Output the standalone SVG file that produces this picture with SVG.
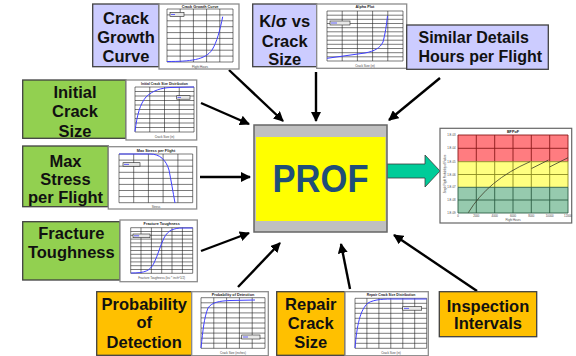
<svg xmlns="http://www.w3.org/2000/svg" width="576" height="356" viewBox="0 0 576 356">
<defs>
<style>
.lbl{font-family:"Liberation Sans",Arial,sans-serif;font-weight:bold;font-size:16.5px;fill:#111;text-anchor:middle}
.blue{fill:#CCCCFF;stroke:#404040;stroke-width:1.3}
.green{fill:#92D050;stroke:#404040;stroke-width:1.3}
.orange{fill:#FFC000;stroke:#404040;stroke-width:1.3}
.frame{fill:#fff;stroke:#8c8c8c;stroke-width:1.3}
.grid{fill:none;stroke:#222;stroke-width:0.6}
.curve{fill:none;stroke:#4040ff;stroke-width:1}
.leg{fill:#e8e8e8;stroke:#222;stroke-width:0.6}
.tt{font-family:"Liberation Sans",Arial,sans-serif;font-weight:bold;font-size:3.8px;fill:#222;text-anchor:middle}
.ax{font-family:"Liberation Sans",Arial,sans-serif;font-size:3px;fill:#444;text-anchor:middle}
.conn{fill:none;stroke:#000;stroke-width:2.4;marker-end:url(#ah)}
</style>
<marker id="ah" viewBox="0 0 10 10" refX="9" refY="5" markerWidth="4.2" markerHeight="4.2" orient="auto" markerUnits="strokeWidth">
<path d="M0,0 L10,5 L0,10 z" fill="#000"/>
</marker>
</defs>
<rect width="576" height="356" fill="#fff"/>

<g id="connectors">
<line class="conn" x1="229" y1="70" x2="283" y2="121"/>
<line class="conn" x1="316" y1="72" x2="316" y2="121"/>
<line class="conn" x1="440" y1="78" x2="389" y2="120"/>
<line class="conn" x1="201" y1="103" x2="249" y2="124"/>
<line class="conn" x1="200" y1="177" x2="250" y2="177"/>
<line class="conn" x1="201" y1="251" x2="249" y2="233"/>
<line class="conn" x1="238" y1="287" x2="280" y2="243"/>
<line class="conn" x1="350" y1="289" x2="341" y2="244"/>
<line class="conn" x1="477" y1="291" x2="394" y2="235"/>
<polygon points="387,164 425,164 425,155 440,171 425,187 425,178 387,178" fill="#00CC99" stroke="#3a3a3a" stroke-width="0.8"/>
</g>

<g id="prof">
<rect x="254" y="125" width="133" height="107" fill="#C0C0C0" stroke="#666" stroke-width="1.5"/>
<rect x="256" y="137" width="129.5" height="84" fill="#FFFF00"/>
<text x="320.5" y="192" font-family="Liberation Sans,Arial,sans-serif" font-weight="bold" font-size="38" fill="#1F4E79" text-anchor="middle" textLength="96" lengthAdjust="spacingAndGlyphs">PROF</text>
</g>

<g id="crack-growth">
<rect class="blue" x="92.7" y="4" width="66.3" height="62.7"/>
<text class="lbl" x="126" y="24">Crack</text>
<text class="lbl" x="126" y="43.3">Growth</text>
<text class="lbl" x="126" y="62.3">Curve</text>
<rect class="frame" x="159" y="4" width="80" height="65"/>
<path class="grid" d="M167,9V62M180.2,9V62M193.4,9V62M206.6,9V62M219.8,9V62M233,9V62M167,9H233M167,14.9H233M167,20.8H233M167,26.7H233M167,32.6H233M167,38.4H233M167,44.3H233M167,50.2H233M167,56.1H233M167,62H233"/>
<path class="curve" d="M167,61.5 C190,61.5 205,60 212,50 C217,42 220,30 222.7,16.7"/>
<rect class="leg" x="170" y="12.5" width="14" height="4"/>
<line x1="171" y1="14.5" x2="175" y2="14.5" stroke="#4040ff" stroke-width="0.8"/>
<text class="tt" x="200" y="7.6">Crack Growth Curve</text>
<text class="ax" x="200" y="67.5">Flight Hours</text>
</g>

<g id="k-sigma">
<rect class="blue" x="252.7" y="4" width="64" height="62.7"/>
<text class="lbl" x="284.7" y="26.7">K/σ vs</text>
<text class="lbl" x="284.7" y="46.7">Crack</text>
<text class="lbl" x="284.7" y="65">Size</text>
<rect class="frame" x="316.7" y="4" width="90" height="64.3"/>
<path class="grid" d="M327,11V61M342.2,11V61M357.4,11V61M372.6,11V61M387.8,11V61M403,11V61M327,11H403M327,15.2H403M327,19.3H403M327,23.5H403M327,27.7H403M327,31.8H403M327,36H403M327,40.2H403M327,44.3H403M327,48.5H403M327,52.7H403M327,56.8H403M327,61H403"/>
<path class="curve" d="M327,58.3 L365,53 C375,51 380,48 383,42 C385,35 386.5,25 387.5,16"/>
<rect class="leg" x="330" y="21" width="20" height="4"/>
<line x1="331" y1="23" x2="337" y2="23" stroke="#4040ff" stroke-width="0.8"/>
<text class="tt" x="365" y="8.4">Alpha Plot</text>
<text class="ax" x="365" y="66.5">Crack Size (in)</text>
</g>

<g id="similar-details">
<rect class="blue" x="406.7" y="25" width="141.6" height="44.3"/>
<text class="lbl" x="418.5" y="42.7" style="text-anchor:start;font-size:16px">Similar Details</text>
<text class="lbl" x="418.5" y="61.7" style="text-anchor:start;font-size:16px">Hours per Flight</text>
</g>

<g id="initial-crack">
<rect class="green" x="22.7" y="80" width="103.3" height="58.3"/>
<text class="lbl" x="75" y="97.5">Initial</text>
<text class="lbl" x="75" y="117.3">Crack</text>
<text class="lbl" x="75" y="136.5">Size</text>
<rect class="frame" x="126" y="80" width="70.7" height="60"/>
<path class="grid" d="M135,87V132M149.75,87V132M164.5,87V132M179.25,87V132M194,87V132M135,87H194M135,91.5H194M135,96H194M135,100.5H194M135,105H194M135,109.5H194M135,114H194M135,118.5H194M135,123H194M135,127.5H194M135,132H194"/>
<path class="curve" d="M135,131.5 C137,115 140,104 146,97 C153,90 162,88 170,87.5 L194,87"/>
<rect class="leg" x="176.7" y="95.7" width="13.3" height="3.5"/>
<line x1="177.5" y1="97.4" x2="181" y2="97.4" stroke="#4040ff" stroke-width="0.8"/>
<text class="tt" x="164.5" y="84.6" style="font-size:3.4px">Initial Crack Size Distribution</text>
<text class="ax" x="164.5" y="138">Crack Size (in)</text>
</g>

<g id="max-stress">
<rect class="green" x="22.7" y="146" width="85.6" height="60.7"/>
<text class="lbl" x="65.5" y="166.7">Max</text>
<text class="lbl" x="65.5" y="185">Stress</text>
<text class="lbl" x="65.5" y="203">per Flight</text>
<rect class="frame" x="108.3" y="146.7" width="88.4" height="62.3"/>
<path class="grid" d="M119,154V202.7M133.7,154V202.7M148.4,154V202.7M163.1,154V202.7M177.9,154V202.7M192.7,154V202.7M119,154H192.7M119,160.1H192.7M119,166.2H192.7M119,172.3H192.7M119,178.4H192.7M119,184.4H192.7M119,190.5H192.7M119,196.6H192.7M119,202.7H192.7"/>
<path class="curve" d="M119,154 L150,154 C160,154 166,160 169,170 C171,180 173,192 175,203"/>
<rect class="leg" x="123" y="162.7" width="17" height="3.5"/>
<line x1="124" y1="164.4" x2="129" y2="164.4" stroke="#4040ff" stroke-width="0.8"/>
<text class="tt" x="156" y="151.8">Max Stress per Flight</text>
<text class="ax" x="156" y="207.5">Stress</text>
</g>

<g id="fracture-toughness">
<rect class="green" x="22.7" y="221.7" width="97.3" height="58.3"/>
<text class="lbl" x="71.3" y="239">Fracture</text>
<text class="lbl" x="71.3" y="258.3">Toughness</text>
<rect class="frame" x="120" y="220" width="77.3" height="61.7"/>
<path class="grid" d="M130.7,227.7V273.3M141,227.7V273.3M151.4,227.7V273.3M161.7,227.7V273.3M172,227.7V273.3M182.4,227.7V273.3M192.7,227.7V273.3M130.7,227.7H192.7M130.7,231.5H192.7M130.7,235.3H192.7M130.7,239.1H192.7M130.7,242.9H192.7M130.7,246.7H192.7M130.7,250.5H192.7M130.7,254.3H192.7M130.7,258.1H192.7M130.7,261.9H192.7M130.7,265.7H192.7M130.7,269.5H192.7M130.7,273.3H192.7"/>
<path class="curve" d="M131,273 C145,273 150,271 154,263 C158,255 160,246 164,238 C168,230 174,228 183,228 L192.7,228"/>
<rect class="leg" x="133" y="234" width="17" height="3.7"/>
<line x1="134" y1="235.8" x2="139" y2="235.8" stroke="#4040ff" stroke-width="0.8"/>
<text class="tt" x="161.7" y="225">Fracture Toughness</text>
<text class="ax" x="161.7" y="279">Fracture Toughness (ksi * inch^1/2)</text>
</g>

<g id="probability-detection">
<rect class="orange" x="96.7" y="291.7" width="95" height="63.6"/>
<text class="lbl" x="144.2" y="310">Probability</text>
<text class="lbl" x="144.2" y="328.3">of</text>
<text class="lbl" x="144.2" y="347.7">Detection</text>
<rect class="frame" x="191.7" y="291.7" width="76.6" height="64"/>
<path class="grid" d="M201,297.7V348.3M213.8,297.7V348.3M226.6,297.7V348.3M239.4,297.7V348.3M252.2,297.7V348.3M265,297.7V348.3M201,297.7H265M201,302.8H265M201,307.8H265M201,312.9H265M201,317.9H265M201,323H265M201,328.1H265M201,333.1H265M201,338.2H265M201,343.2H265M201,348.3H265"/>
<path class="curve" d="M201,348 C203,330 204,318 208,308 C212,302 220,301 230,300.5 L255,300"/>
<rect class="leg" x="241.7" y="335" width="18.3" height="4"/>
<line x1="243" y1="337" x2="248" y2="337" stroke="#4040ff" stroke-width="0.8"/>
<text class="tt" x="233" y="296">Probability of Detection</text>
<text class="ax" x="233" y="353.5">Crack Size (inches)</text>
</g>

<g id="repair-crack">
<rect class="orange" x="276.7" y="291.7" width="68.3" height="63.6"/>
<text class="lbl" x="310.8" y="310">Repair</text>
<text class="lbl" x="310.8" y="329.3">Crack</text>
<text class="lbl" x="310.8" y="348.3">Size</text>
<rect class="frame" x="345" y="291.7" width="83.3" height="64"/>
<path class="grid" d="M355,298.3V348.3M366.9,298.3V348.3M378.9,298.3V348.3M390.8,298.3V348.3M402.8,298.3V348.3M414.7,298.3V348.3M426.7,298.3V348.3M355,298.3H426.7M355,303.3H426.7M355,308.3H426.7M355,313.3H426.7M355,318.3H426.7M355,323.3H426.7M355,328.3H426.7M355,333.3H426.7M355,338.3H426.7M355,343.3H426.7M355,348.3H426.7"/>
<path class="curve" d="M355,348 C357,325 360,310 368,303 C375,299 385,299 395,299 L426.7,299"/>
<rect class="leg" x="402.7" y="306.7" width="19" height="3.5"/>
<line x1="404" y1="308.4" x2="409" y2="308.4" stroke="#4040ff" stroke-width="0.8"/>
<text class="tt" x="391" y="296.2" style="font-size:3.4px">Repair Crack Size Distribution</text>
<text class="ax" x="391" y="353.5">Crack Size (in)</text>
</g>

<g id="inspection-intervals">
<rect class="orange" x="439.3" y="291.7" width="97.4" height="45"/>
<text class="lbl" x="488" y="311.7">Inspection</text>
<text class="lbl" x="488" y="329.3">Intervals</text>
</g>

<g id="bfpof-chart">
<rect x="440" y="128.3" width="131.7" height="94.7" fill="#fff" stroke="#666" stroke-width="1.2"/>
<rect x="458" y="135" width="110" height="26.7" fill="#FF7C80"/>
<rect x="458" y="161.7" width="110" height="25.6" fill="#FFFF80"/>
<rect x="458" y="187.3" width="110" height="25.7" fill="#96CAAE"/>
<path fill="none" stroke="#8B1A1A" stroke-width="0.9" d="M458,135H568M458,148.3H568M476.3,135V161.7M494.7,135V161.7M513,135V161.7M531.3,135V161.7M549.7,135V161.7M568,135V161.7M458,135V161.7"/>
<path fill="none" stroke="#8A8A20" stroke-width="0.9" d="M458,161.7H568M458,174.5H568M476.3,161.7V187.3M494.7,161.7V187.3M513,161.7V187.3M531.3,161.7V187.3M549.7,161.7V187.3M568,161.7V187.3M458,161.7V187.3"/>
<path fill="none" stroke="#2D5E45" stroke-width="0.9" d="M458,187.3H568M458,200H568M458,213H568M476.3,187.3V213M494.7,187.3V213M513,187.3V213M531.3,187.3V213M549.7,187.3V213M568,187.3V213M458,187.3V213"/>
<path fill="none" stroke="#3d3d2a" stroke-width="0.8" d="M468.3,212.7 Q488,180 530,161.7 M531.5,168.5 L548.5,160 M549.5,167 L568,157.7"/>
<text class="tt" x="513" y="132.5">BFPoF</text>
<g class="ax" style="text-anchor:end;font-size:2.8px">
<text x="455.5" y="136">1.E-03</text>
<text x="455.5" y="149.3">1.E-04</text>
<text x="455.5" y="162.7">1.E-05</text>
<text x="455.5" y="175.5">1.E-06</text>
<text x="455.5" y="188.3">1.E-07</text>
<text x="455.5" y="201">1.E-08</text>
<text x="455.5" y="214">1.E-09</text>
</g>
<g class="ax" style="font-size:2.8px">
<text x="458" y="217">0</text>
<text x="476.3" y="217">2000</text>
<text x="494.7" y="217">4000</text>
<text x="513" y="217">6000</text>
<text x="531.3" y="217">8000</text>
<text x="549.7" y="217">10000</text>
<text x="568" y="217">12000</text>
<text x="513" y="220.8">Flight Hours</text>
</g>
<text class="ax" style="font-size:2.6px" transform="translate(445.5,174) rotate(-90)">Single Flight Probability of Failure</text>
</g>
</svg>
